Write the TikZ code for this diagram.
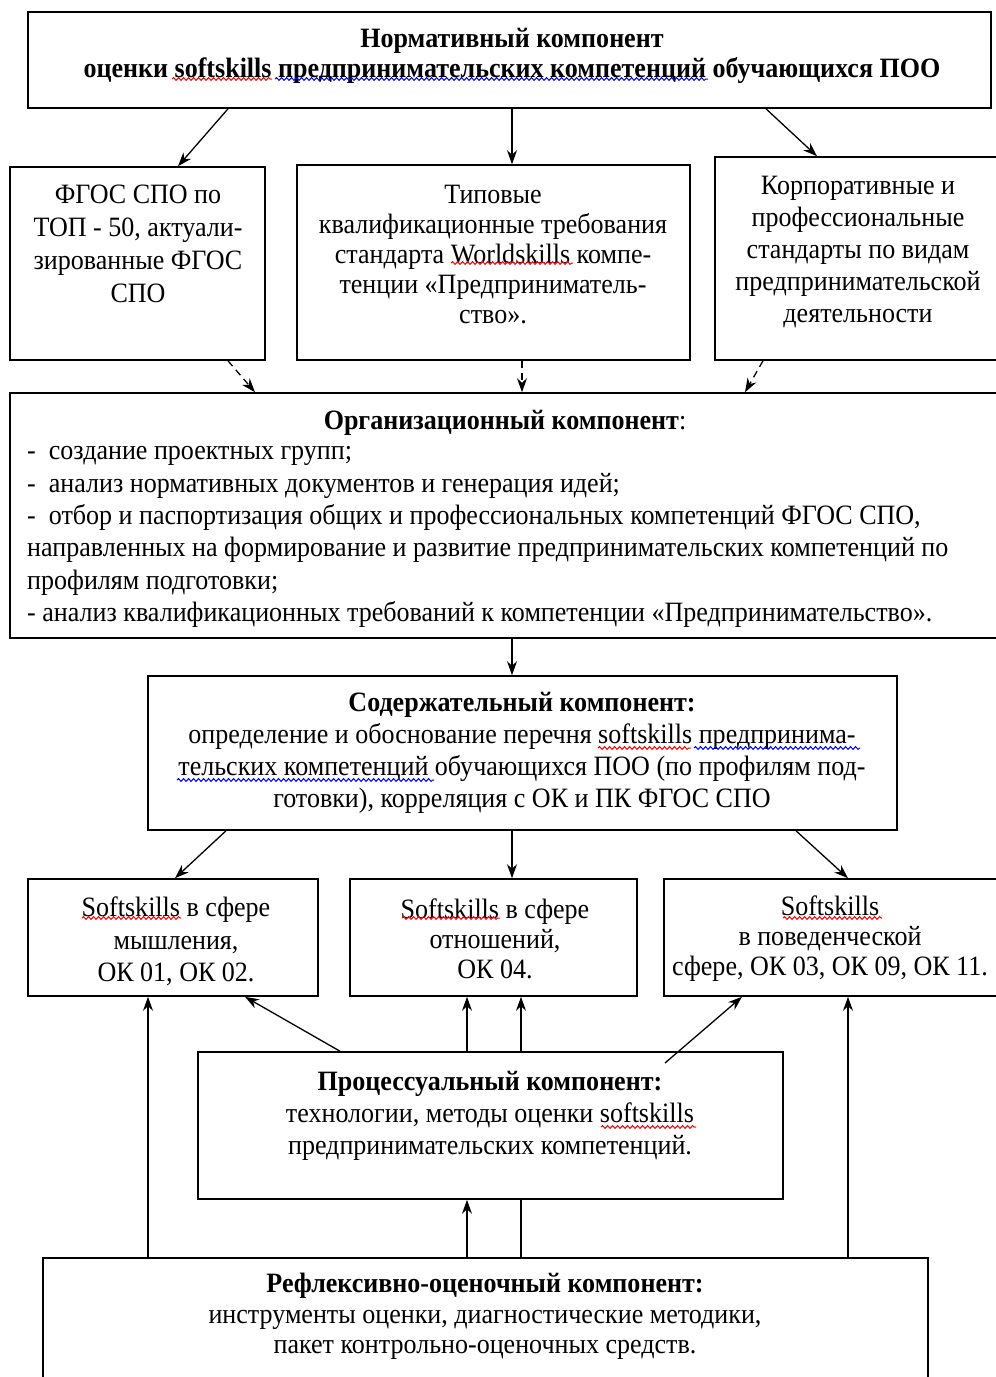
\documentclass[tikz,border=0pt]{standalone}
\usepackage{fontspec}
\setmainfont[FakeStretch=0.93]{Liberation Serif}
\usetikzlibrary{arrows.meta,decorations.pathmorphing}
\begin{document}
\begin{tikzpicture}[x=1pt,y=-1pt,
  box/.style={draw, line width=1.6pt, rectangle, inner sep=0pt},
  txt/.style={font=\fontsize{28}{32}\selectfont, align=center, inner sep=0pt},
  arr/.style={line width=1.3pt, -{Stealth[length=14pt,width=10pt]}},
  darr/.style={arr, dash pattern=on 7pt off 5pt},
  ln/.style={line width=1.3pt},
  wavy/.style={line width=1pt, decorate, decoration={snake, amplitude=1.4pt, segment length=5pt}},
  wred/.style={wavy, draw=red},
  wblue/.style={wavy, draw=blue}]
\clip (0,0) rectangle (996,1377);
\fill[white] (0,0) rectangle (996,1377);
% boxes
\node[box, minimum width=963pt, minimum height=96pt] (top) at (509.5,60) {};
\node[box, minimum width=255pt, minimum height=193pt] (A) at (137.5,263.5) {};
\node[box, minimum width=393pt, minimum height=195pt] (B) at (493.5,262.5) {};
\node[box, minimum width=295pt, minimum height=203pt] (C) at (862.5,258.5) {};
\node[box, minimum width=1000pt, minimum height=245pt] (D) at (510,515.5) {};
\node[box, minimum width=749pt, minimum height=154pt] (E) at (522.5,753) {};
\node[box, minimum width=290pt, minimum height=117pt] (F1) at (173,937.5) {};
\node[box, minimum width=287pt, minimum height=117pt] (F2) at (493.5,937.5) {};
\node[box, minimum width=346pt, minimum height=117pt] (F3) at (837,937.5) {};
\node[box, minimum width=585pt, minimum height=147pt] (P) at (490.5,1125.5) {};
\node[box, minimum width=885pt, minimum height=142pt] (R) at (485.5,1329) {};
% texts
\node[txt, font=\fontsize{28}{30}\selectfont] (ttop) at (512,56) {\bfseries Нормативный компонент\\\bfseries оценки softskills предпринимательских компетенций обучающихся ПОО};
\node[txt, font=\fontsize{28}{33}\selectfont] (tA) at (138,243.5) {ФГОС СПО по\\ТОП - 50, актуали-\\зированные ФГОС\\СПО};
\node[txt, font=\fontsize{28}{30.2}\selectfont] (tB) at (493,254.5) {Типовые\\квалификационные требования\\стандарта Worldskills компе-\\тенции «Предприниматель-\\ство».};
\node[txt] (tC) at (858,252.5) {Корпоративные и\\профессиональные\\стандарты по видам\\предпринимательской\\деятельности};
\node[txt] (tDh) at (505,423) {\bfseries Организационный компонент\mdseries:};
\node[txt, align=left, anchor=west, font=\fontsize{28}{32.4}\selectfont] (tD) at (27,537) {-\ \ создание проектных групп;\\-\ \ анализ нормативных документов и генерация идей;\\-\ \ отбор и паспортизация общих и профессиональных компетенций ФГОС СПО,\\направленных на формирование и развитие предпринимательских компетенций по\\профилям подготовки;\\- анализ квалификационных требований к компетенции «Предпринимательство».};
\node[txt] (tE) at (522,752.5) {\bfseries Содержательный компонент:\\определение и обоснование перечня softskills предпринима-\\тельских компетенций обучающихся ПОО (по профилям под-\\готовки), корреляция с ОК и ПК ФГОС СПО};
\node[txt, font=\fontsize{28}{32.5}\selectfont] (tF1) at (176,941.5) {Softskills в сфере\\мышления,\\ОК 01, ОК 02.};
\node[txt, font=\fontsize{28}{30}\selectfont] (tF2) at (495,939) {Softskills в сфере\\отношений,\\ОК 04.};
\node[txt, font=\fontsize{28}{30}\selectfont] (tF3) at (830,939) {Softskills\\в поведенческой\\сфере, ОК 03, ОК 09, ОК 11.};
\node[txt] (tP) at (490,1116) {\bfseries Процессуальный компонент:\\технологии, методы оценки softskills\\предпринимательских компетенций.};
\node[txt, font=\fontsize{28}{30.5}\selectfont] (tR) at (485,1316.5) {\bfseries Рефлексивно-оценочный компонент:\\инструменты оценки, диагностические методики,\\пакет контрольно-оценочных средств.};
% spell-check underlines
\draw[wred] (172,79) -- (272,79);
\draw[wblue] (275,79) -- (708,79);
\draw[wred] (451,263) -- (573,263);
\draw[wred] (598,748) -- (691,748);
\draw[wblue] (694,748) -- (860,748);
\draw[wblue] (177,780) -- (434,780);
\draw[wred] (82,918) -- (181,918);
\draw[wred] (402,918) -- (500,918);
\draw[wred] (783,918) -- (882,918);
\draw[wred] (601,1127) -- (696,1127);
% connectors
\draw[arr] (top.south -| 228,0) -- (A.north -| 178,0);
\draw[arr] (top.south -| 512,0) -- (B.north -| 512,0);
\draw[arr] (top.south -| 766,0) -- (C.north -| 817,0);
\draw[darr] (A.south -| 228,0) -- (D.north -| 255,0);
\draw[darr] (B.south -| 522,0) -- (D.north -| 522,0);
\draw[darr] (C.south -| 763,0) -- (D.north -| 745,0);
\draw[arr] (D.south -| 512,0) -- (E.north -| 512,0);
\draw[arr] (E.south -| 226,0) -- (F1.north -| 175,0);
\draw[arr] (E.south -| 512,0) -- (F2.north -| 512,0);
\draw[arr] (E.south -| 796,0) -- (F3.north -| 848,0);
\draw[arr] (P.north -| 340,0) -- (F1.south -| 245,0);
\draw[arr] (P.north -| 467,0) -- (F2.south -| 467,0);
\draw[arr] (P.north -| 521,0) -- (F2.south -| 521,0);
\coordinate (pf3) at (665,1063);
\draw[arr] (pf3) -- (F3.south -| 742,0);
\draw[arr] (R.north -| 148,0) -- (F1.south -| 148,0);
\draw[arr] (R.north -| 848,0) -- (F3.south -| 848,0);
\draw[arr] (R.north -| 467,0) -- (P.south -| 467,0);
\draw[ln] (P.south -| 521,0) -- (R.north -| 521,0);
\end{tikzpicture}
\end{document}
